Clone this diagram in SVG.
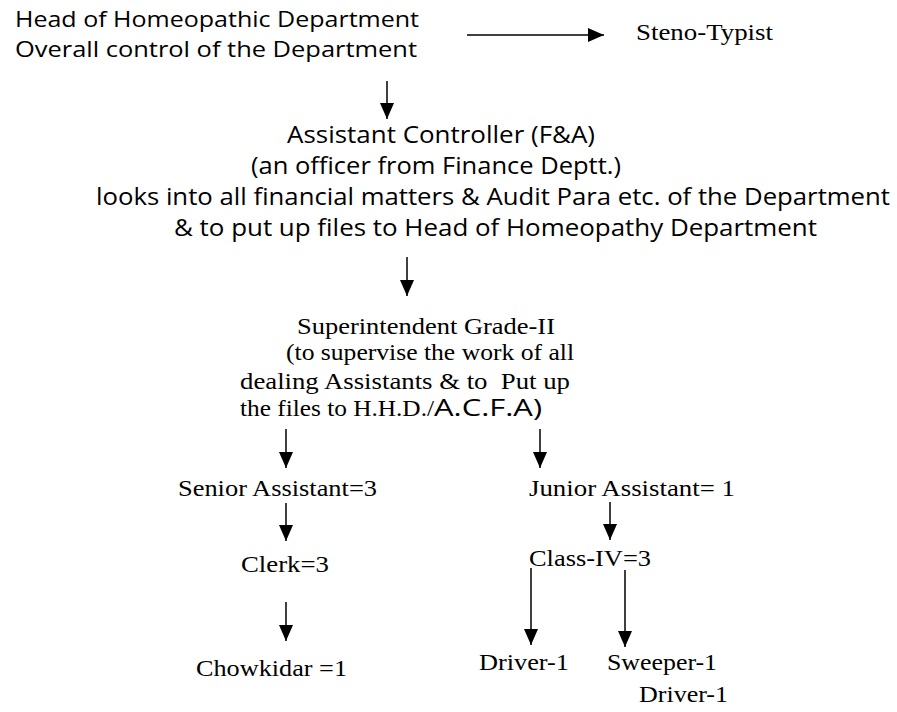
<svg xmlns="http://www.w3.org/2000/svg" width="897" height="712" viewBox="0 0 897 712">
<style>
.sans{font-family:"Open Sans","Liberation Sans",sans-serif;font-size:23px;fill:#000}
.hd{font-size:22px}
.serif{font-family:"Liberation Serif","Times New Roman",serif;font-size:24px;fill:#000}
.conn{stroke:#000;stroke-width:1.5;fill:none;marker-end:url(#ah)}
</style>
<defs>
<marker id="ah" markerUnits="userSpaceOnUse" markerWidth="16" markerHeight="14" refX="16" refY="7" orient="auto">
<path d="M0,0 L16,7 L0,14 z" fill="#000"/>
</marker>
</defs>
<rect width="897" height="712" fill="#fff"/>
<g id="connectors">
<line class="conn" x1="467" y1="35" x2="604" y2="35"/>
<line class="conn" x1="387" y1="81" x2="387" y2="119"/>
<line class="conn" x1="407" y1="257" x2="407" y2="296"/>
<line class="conn" x1="286" y1="429" x2="286" y2="468"/>
<line class="conn" x1="540" y1="429" x2="540" y2="468"/>
<line class="conn" x1="286" y1="503" x2="286" y2="541"/>
<line class="conn" x1="610" y1="502" x2="610" y2="540"/>
<line class="conn" x1="286" y1="602" x2="286" y2="641"/>
<line class="conn" x1="531" y1="568" x2="531" y2="645"/>
<line class="conn" x1="625" y1="570" x2="625" y2="647"/>
</g>
<g id="head">
<text class="sans hd" x="15" y="27" textLength="404" lengthAdjust="spacingAndGlyphs">Head of Homeopathic Department</text>
<text class="sans hd" x="15" y="57" textLength="402" lengthAdjust="spacingAndGlyphs">Overall control of the Department</text>
</g>
<g id="steno">
<text class="serif" x="636" y="40" textLength="137" lengthAdjust="spacingAndGlyphs">Steno-Typist</text>
</g>
<g id="asst-controller">
<text class="sans" x="287" y="143" textLength="308" lengthAdjust="spacingAndGlyphs">Assistant Controller (F&amp;A)</text>
<text class="sans" x="251" y="174" textLength="370" lengthAdjust="spacingAndGlyphs">(an officer from Finance Deptt.)</text>
<text class="sans" x="96" y="205" textLength="794" lengthAdjust="spacingAndGlyphs">looks into all financial matters &amp; Audit Para etc. of the Department</text>
<text class="sans" x="174" y="236" textLength="643" lengthAdjust="spacingAndGlyphs">&amp; to put up files to Head of Homeopathy Department</text>
</g>
<g id="superintendent">
<text class="serif" x="297" y="334" textLength="258" lengthAdjust="spacingAndGlyphs">Superintendent Grade-II</text>
<text class="serif" x="286" y="360" textLength="288" lengthAdjust="spacingAndGlyphs">(to supervise the work of all</text>
<text class="serif" x="240" y="389" textLength="330" lengthAdjust="spacingAndGlyphs" xml:space="preserve">dealing Assistants &amp; to  Put up</text>
<text x="240" y="416"><tspan class="serif" textLength="194" lengthAdjust="spacingAndGlyphs">the files to H.H.D./</tspan><tspan class="sans" textLength="108" lengthAdjust="spacingAndGlyphs">A.C.F.A)</tspan></text>
</g>
<g id="senior">
<text class="serif" x="178" y="496" textLength="199" lengthAdjust="spacingAndGlyphs">Senior Assistant=3</text>
</g>
<g id="junior">
<text class="serif" x="529" y="496" textLength="206" lengthAdjust="spacingAndGlyphs">Junior Assistant= 1</text>
</g>
<g id="clerk">
<text class="serif" x="241" y="572" textLength="88" lengthAdjust="spacingAndGlyphs">Clerk=3</text>
</g>
<g id="class4">
<text class="serif" x="529" y="566" textLength="122" lengthAdjust="spacingAndGlyphs">Class-IV=3</text>
</g>
<g id="chowkidar">
<text class="serif" x="196" y="676" textLength="151" lengthAdjust="spacingAndGlyphs">Chowkidar =1</text>
</g>
<g id="driver">
<text class="serif" x="479" y="670" textLength="90" lengthAdjust="spacingAndGlyphs">Driver-1</text>
</g>
<g id="sweeper">
<text class="serif" x="607" y="670" textLength="110" lengthAdjust="spacingAndGlyphs">Sweeper-1</text>
<text class="serif" x="639" y="702" textLength="89" lengthAdjust="spacingAndGlyphs">Driver-1</text>
</g>
</svg>
